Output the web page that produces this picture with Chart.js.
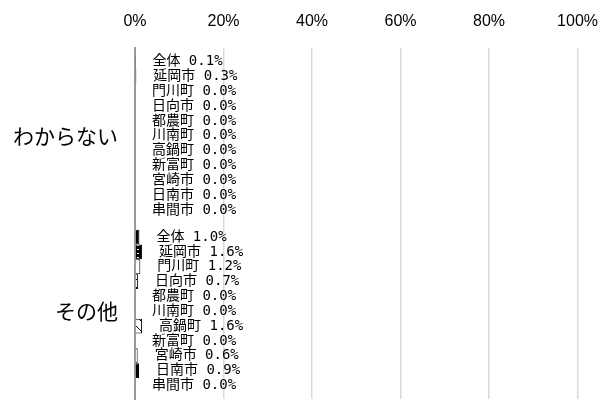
<!DOCTYPE html>
<html lang="ja">
<head>
<meta charset="utf-8">
<script src="https://cdn.jsdelivr.net/npm/chart.js@4/dist/chart.umd.min.js"></script>
<style>
  html, body { margin: 0; padding: 0; background: #fff; }
  #wrap { width: 615px; height: 403px; position: relative; }
</style>
</head>
<body>
<div id="wrap"><canvas id="chart"></canvas></div>
<script>
// categories (top to bottom)
const categories = ['わからない', 'その他'];

// area names, in the order the bars are stacked inside each category
const areas = ['全体', '延岡市', '門川町', '日向市', '都農町', '川南町', '高鍋町', '新富町', '宮崎市', '日南市', '串間市'];

// percentages per category, one value per area
const unknownValues = [0.1, 0.3, 0.0, 0.0, 0.0, 0.0, 0.0, 0.0, 0.0, 0.0, 0.0];
const otherValues   = [1.0, 1.6, 1.2, 0.7, 0.0, 0.0, 1.6, 0.0, 0.6, 0.9, 0.0];

// x axis ticks
const tickValues = [0, 20, 40, 60, 80, 100];

function makePattern(draw, size) {
    const c = document.createElement('canvas');
    c.width = size;
    c.height = size;
    const ctx = c.getContext('2d');
    draw(ctx, size);
    return ctx.createPattern(c, 'repeat');
}

const ctx0 = document.getElementById('chart').getContext('2d');

// fills roughly copied from the print style of the original
const dotted = makePattern((c, s) => {
    c.fillStyle = '#000';
    c.fillRect(0, 0, s, s);
    c.fillStyle = '#fff';
    c.fillRect(1, 1, 2, 1);
}, 4);
const darkDots = makePattern((c, s) => {
    c.fillStyle = '#000';
    c.fillRect(0, 0, s, s);
    c.fillStyle = '#fff';
    c.fillRect(2, 2, 1, 1);
}, 4);
const slashRight = makePattern((c, s) => {
    c.fillStyle = '#fff';
    c.fillRect(0, 0, s, s);
    c.strokeStyle = '#000';
    c.lineWidth = 1;
    c.beginPath();
    c.moveTo(0, s);
    c.lineTo(s, 0);
    c.stroke();
}, 8);
const slashLeft = makePattern((c, s) => {
    c.fillStyle = '#fff';
    c.fillRect(0, 0, s, s);
    c.strokeStyle = '#000';
    c.lineWidth = 1;
    c.beginPath();
    c.moveTo(0, 0);
    c.lineTo(s, s);
    c.stroke();
}, 10);

const fills = ['#000', dotted, '#fff', slashRight, '#fff', '#fff', slashLeft, '#fff', '#fff', darkDots, '#fff'];

const datasets = areas.map((name, i) => ({
    label: name,
    data: [unknownValues[i], otherValues[i]],
    backgroundColor: fills[i],
    borderColor: '#000',
    borderWidth: c => (c.raw > 0 ? 1 : 0),
    borderSkipped: 'start',
    barPercentage: 1,
    categoryPercentage: 0.93
}));

// draws "name value%" just right of every bar end
const barLabels = {
    id: 'barLabels',
    afterDatasetsDraw(chart) {
        const c = chart.ctx;
        c.save();
        c.font = "14px 'DejaVu Sans Mono', 'Noto Sans CJK JP'";
        c.fillStyle = '#000';
        c.textAlign = 'left';
        c.textBaseline = 'middle';
        chart.data.datasets.forEach((ds, i) => {
            const meta = chart.getDatasetMeta(i);
            meta.data.forEach((bar, j) => {
                const text = ds.label + ' ' + ds.data[j].toFixed(1) + '%';
                c.fillText(text, bar.x + 17, bar.y);
            });
        });
        c.restore();
    }
};

new Chart(ctx0, {
    type: 'bar',
    data: {
        labels: categories,
        datasets: datasets
    },
    options: {
        indexAxis: 'y',
        responsive: true,
        maintainAspectRatio: false,
        animation: false,
        layout: {
            padding: { top: 0, right: 33, bottom: 4, left: 0 }
        },
        plugins: {
            legend: { display: false },
            tooltip: { enabled: false }
        },
        scales: {
            x: {
                position: 'top',
                min: 0,
                max: 100,
                afterBuildTicks: scale => {
                    scale.ticks = tickValues.map(v => ({ value: v }));
                },
                afterFit: scale => { scale.height = 48; },
                ticks: {
                    padding: 17,
                    color: '#000',
                    font: { family: "'Liberation Sans', 'Noto Sans CJK JP'", size: 16 },
                    callback: v => v + '%'
                },
                grid: {
                    color: c => (c.tick && c.tick.value === 0 ? 'rgba(0,0,0,0)' : '#d9d9d9'),
                    lineWidth: 1.5,
                    drawTicks: false
                },
                border: { display: false }
            },
            y: {
                afterFit: scale => {
                    scale.width = 135;
                    // keep the label padding from shrinking the plot area
                    scale.paddingTop = 0;
                    scale.paddingBottom = 0;
                },
                ticks: {
                    padding: 17,
                    color: '#000',
                    font: { family: "'Noto Sans CJK JP'", size: 21 }
                },
                grid: { display: false, drawTicks: false },
                border: { display: true, color: '#999', width: 2 }
            }
        }
    },
    plugins: [barLabels]
});
</script>
</body>
</html>
